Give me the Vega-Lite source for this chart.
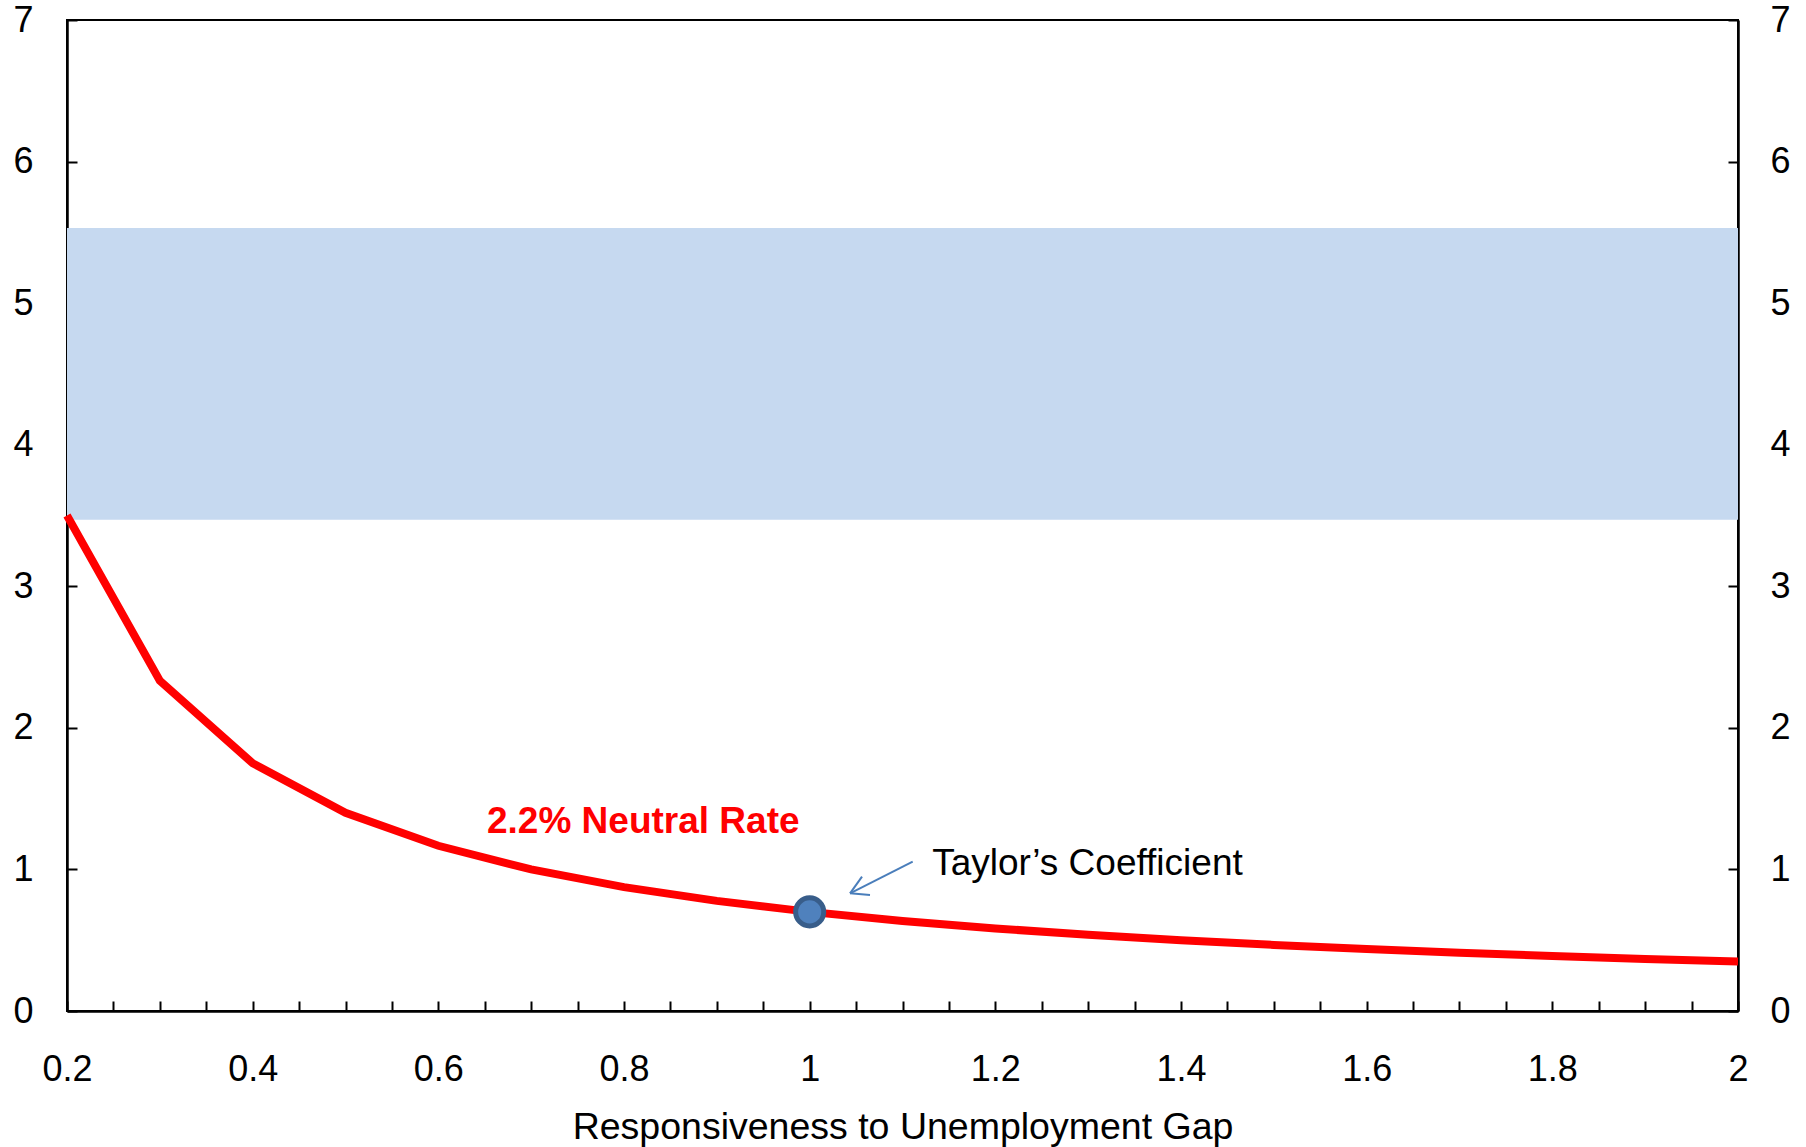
{
  "$schema": "https://vega.github.io/schema/vega-lite/v6.json",
  "width": 1671,
  "height": 991,
  "autosize": "none",
  "padding": {"left": 67, "top": 20, "right": 68, "bottom": 136},
  "background": "white",
  "config": {
    "view": {"stroke": "black", "strokeWidth": 2},
    "font": "Liberation Sans",
    "axis": {
      "domainColor": "black",
      "domainWidth": 2.5,
      "tickColor": "black",
      "tickWidth": 2,
      "tickSize": -10,
      "labelFont": "Liberation Sans",
      "labelFontSize": 36,
      "labelColor": "black",
      "grid": false,
      "titleFont": "Liberation Sans",
      "titleFontSize": 37.5,
      "titleFontWeight": "normal",
      "titleColor": "black"
    }
  },
  "datasets": {
    "curve": [
      {"x": 0.2, "y": 3.5}, {"x": 0.3, "y": 2.333}, {"x": 0.4, "y": 1.75}, {"x": 0.5, "y": 1.4},
      {"x": 0.6, "y": 1.167}, {"x": 0.7, "y": 1.0}, {"x": 0.8, "y": 0.875}, {"x": 0.9, "y": 0.778},
      {"x": 1.0, "y": 0.7}, {"x": 1.1, "y": 0.636}, {"x": 1.2, "y": 0.583}, {"x": 1.3, "y": 0.538},
      {"x": 1.4, "y": 0.5}, {"x": 1.5, "y": 0.467}, {"x": 1.6, "y": 0.438}, {"x": 1.7, "y": 0.412},
      {"x": 1.8, "y": 0.389}, {"x": 1.9, "y": 0.368}, {"x": 2.0, "y": 0.35}
    ],
    "band": [{"x": 0.2, "x2": 2.0, "lo": 3.47, "hi": 5.53}],
    "dot": [{"x": 1.0, "y": 0.7}],
    "arrow": [
      {"x": 1.111, "y": 1.055, "x2": 1.0435, "y2": 0.831},
      {"x": 1.0435, "y": 0.831, "x2": 1.0564, "y2": 0.949},
      {"x": 1.0435, "y": 0.831, "x2": 1.065, "y2": 0.819}
    ],
    "label1": [{"x": 0.6524, "y": 1.255, "text": "2.2% Neutral Rate"}],
    "label2": [{"x": 1.132, "y": 0.961, "text": "Taylor’s Coefficient"}]
  },
  "resolve": {"scale": {"y": "independent"}},
  "layer": [
    {
      "data": {"name": "band"},
      "mark": {"type": "rect", "color": "#C6D9F0"},
      "encoding": {
        "x": {
          "field": "x", "type": "quantitative",
          "scale": {"domain": [0.2, 2], "nice": false, "zero": false},
          "axis": {
            "values": [0.2,0.25,0.3,0.35,0.4,0.45,0.5,0.55,0.6,0.65,0.7,0.75,0.8,0.85,0.9,0.95,1,1.05,1.1,1.15,1.2,1.25,1.3,1.35,1.4,1.45,1.5,1.55,1.6,1.65,1.7,1.75,1.8,1.85,1.9,1.95,2],
            "labelExpr": "abs(datum.value*5 - round(datum.value*5)) < 0.001 ? format(datum.value, '~g') : ''",
            "labelPadding": 51,
            "labelFlush": false,
            "labelOverlap": false,
            "title": "Responsiveness to Unemployment Gap",
            "titlePadding": 21
          }
        },
        "x2": {"field": "x2"},
        "y": {
          "field": "lo", "type": "quantitative",
          "scale": {"domain": [0, 7], "nice": false},
          "axis": {"orient": "left", "values": [0,1,2,3,4,5,6,7], "labelPadding": 44, "title": null}
        },
        "y2": {"field": "hi"}
      }
    },
    {
      "data": {"name": "curve"},
      "mark": {"type": "line", "color": "#FF0000", "strokeWidth": 8},
      "encoding": {
        "x": {"field": "x", "type": "quantitative"},
        "y": {
          "field": "y", "type": "quantitative",
          "scale": {"domain": [0, 7], "nice": false},
          "axis": {"orient": "right", "values": [0,1,2,3,4,5,6,7], "labelPadding": 42, "title": null}
        }
      }
    },
    {
      "data": {"name": "arrow"},
      "mark": {"type": "rule", "color": "#4A7EBB", "strokeWidth": 2},
      "encoding": {
        "x": {"field": "x", "type": "quantitative"},
        "y": {"field": "y", "type": "quantitative", "scale": {"domain": [0, 7], "nice": false}, "axis": null},
        "x2": {"field": "x2"},
        "y2": {"field": "y2"}
      }
    },
    {
      "data": {"name": "dot"},
      "mark": {"type": "point", "filled": true, "fill": "#4F81BD", "stroke": "#385D8A", "strokeWidth": 5, "size": 790, "opacity": 1},
      "encoding": {
        "x": {"field": "x", "type": "quantitative"},
        "y": {"field": "y", "type": "quantitative", "scale": {"domain": [0, 7], "nice": false}, "axis": null}
      }
    },
    {
      "data": {"name": "label1"},
      "mark": {"type": "text", "align": "left", "baseline": "alphabetic", "font": "Liberation Sans", "fontSize": 37, "fontWeight": "bold", "color": "#FF0000"},
      "encoding": {
        "x": {"field": "x", "type": "quantitative"},
        "y": {"field": "y", "type": "quantitative", "scale": {"domain": [0, 7], "nice": false}, "axis": null},
        "text": {"field": "text"}
      }
    },
    {
      "data": {"name": "label2"},
      "mark": {"type": "text", "align": "left", "baseline": "alphabetic", "font": "Liberation Sans", "fontSize": 37, "color": "black"},
      "encoding": {
        "x": {"field": "x", "type": "quantitative"},
        "y": {"field": "y", "type": "quantitative", "scale": {"domain": [0, 7], "nice": false}, "axis": null},
        "text": {"field": "text"}
      }
    }
  ]
}
